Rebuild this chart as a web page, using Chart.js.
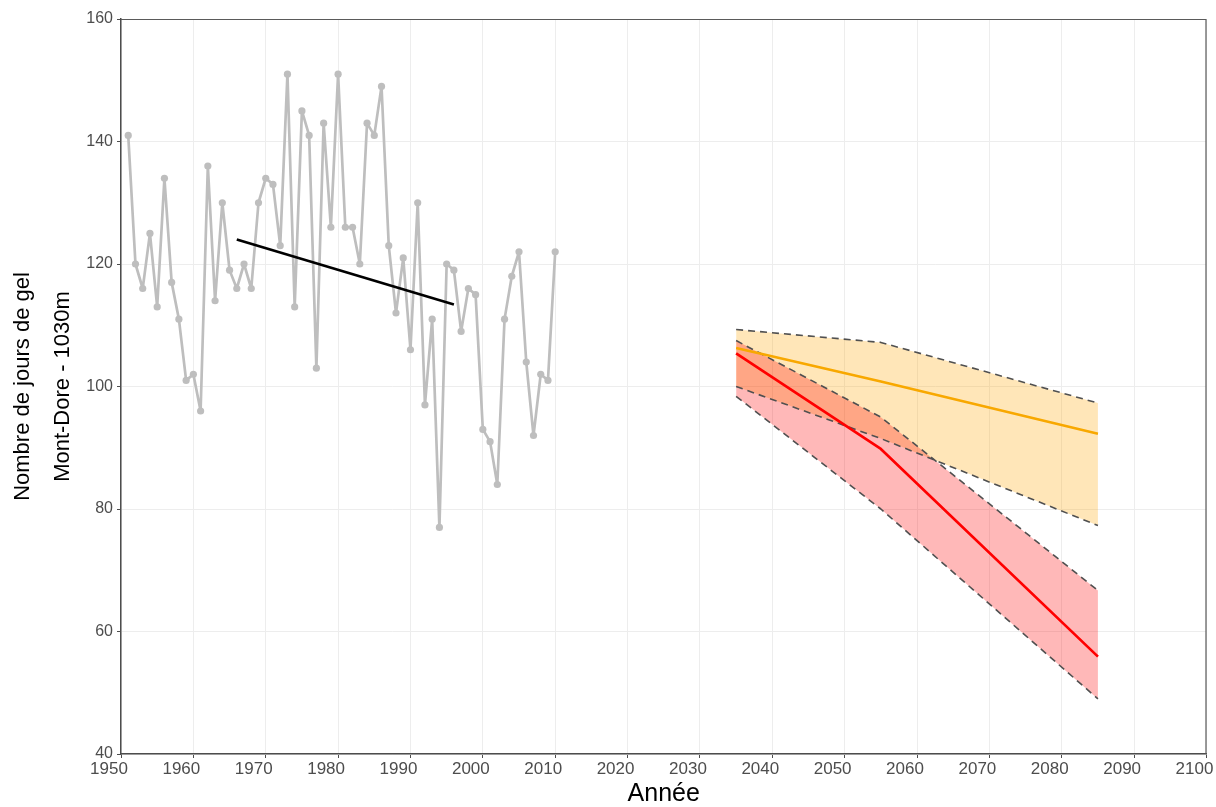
<!DOCTYPE html>
<html>
<head>
<meta charset="utf-8">
<script src="https://cdn.jsdelivr.net/npm/chart.js@4.4.0/dist/chart.umd.min.js"></script>
<style>
html,body{margin:0;padding:0;background:#fff;}
canvas{display:block;}
</style>
</head>
<body>
<canvas id="c" width="1216" height="807"></canvas>
<script>
// Observed frost days
const obsYears = [1951,1952,1953,1954,1955,1956,1957,1958,1959,1960,
                  1961,1962,1963,1964,1965,1966,1967,1968,1969,1970,
                  1971,1972,1973,1974,1975,1976,1977,1978,1979,1980,
                  1981,1982,1983,1984,1985,1986,1987,1988,1989,1990,
                  1991,1992,1993,1994,1995,1996,1997,1998,1999,2000,
                  2001,2002,2003,2004,2005,2006,2007,2008,2009,2010];
const obsValues = [141,120,116,125,113,134,117,111,101,102,
                   96,136,114,130,119,116,120,116,130,134,
                   133,123,151,113,145,141,103,143,126,151,
                   126,126,120,143,141,149,123,112,121,106,
                   130,97,111,77,120,119,109,116,115,93,
                   91,84,111,118,122,104,92,102,101,122];

// Linear trend
const trendYears = [1966, 1996];
const trendValues = [124, 113.4];

// Projections
const projYears = [2035, 2055, 2085];
const orangeUpper  = [109.3, 107.2, 97.3];
const orangeMedian = [106.3, 100.8, 92.3];
const orangeLower  = [100.0, 91.5, 77.3];
const redUpper     = [107.5, 95.0, 66.7];
const redMedian    = [105.4, 89.8, 55.9];
const redLower     = [98.4, 80.0, 49.0];

// Axis ticks
const xTicks = [1950,1960,1970,1980,1990,2000,2010,2020,2030,2040,2050,2060,2070,2080,2090,2100];
const yTicks = [40,60,80,100,120,140,160];

const xTitle = "Année";
const yTitle = ["Nombre de jours de gel", "Mont-Dore - 1030m"];

const pts = (xs, ys) => xs.map((x, i) => ({x: x, y: ys[i]}));

const dashColor = '#505050';
const dash = [7, 5];

const borderPlugin = {
  id: 'panelBorder',
  afterDatasetsDraw(chart) {
    const {ctx, chartArea: a} = chart;
    ctx.save();
    ctx.strokeStyle = '#5a5a5a';
    ctx.lineWidth = 1.2;
    ctx.beginPath();
    ctx.moveTo(a.left, a.top + 0.5);
    ctx.lineTo(a.right - 0.5, a.top + 0.5);
    ctx.lineTo(a.right - 0.5, a.bottom);
    ctx.stroke();
    ctx.restore();
  }
};

Chart.defaults.font.family = "'Liberation Sans', Arial, sans-serif";

const lineBase = { showLine: true, borderJoinStyle: 'round', borderCapStyle: 'round' };

new Chart(document.getElementById('c'), {
  type: 'scatter',
  data: {
    datasets: [
      Object.assign({}, lineBase, { // 0 observed
        data: pts(obsYears, obsValues),
        borderColor: '#BEBEBE',
        backgroundColor: '#BEBEBE',
        borderWidth: 2.7,
        pointRadius: 3.6,
        pointBorderWidth: 0,
        pointBackgroundColor: '#BEBEBE',
        order: 2
      }),
      Object.assign({}, lineBase, { // 1 trend
        data: pts(trendYears, trendValues),
        borderColor: '#000000',
        borderWidth: 2.6,
        borderCapStyle: 'butt',
        pointRadius: 0,
        order: 1
      }),
      Object.assign({}, lineBase, { // 2 red median
        data: pts(projYears, redMedian),
        borderColor: '#FF0000',
        borderWidth: 2.7,
        borderCapStyle: 'butt',
        pointRadius: 0,
        order: 3
      }),
      Object.assign({}, lineBase, { // 3 orange median
        data: pts(projYears, orangeMedian),
        borderColor: '#F8A800',
        borderWidth: 2.6,
        borderCapStyle: 'butt',
        pointRadius: 0,
        order: 4
      }),
      Object.assign({}, lineBase, { // 4 red upper (fill to red lower)
        data: pts(projYears, redUpper),
        borderColor: dashColor,
        borderWidth: 1.6,
        borderDash: dash,
        borderCapStyle: 'butt',
        pointRadius: 0,
        fill: {target: 5},
        backgroundColor: 'rgba(255,0,0,0.28)',
        order: 5
      }),
      Object.assign({}, lineBase, { // 5 red lower
        data: pts(projYears, redLower),
        borderColor: dashColor,
        borderWidth: 1.6,
        borderDash: dash,
        borderCapStyle: 'butt',
        pointRadius: 0,
        fill: false,
        order: 6
      }),
      Object.assign({}, lineBase, { // 6 orange upper (fill to orange lower)
        data: pts(projYears, orangeUpper),
        borderColor: dashColor,
        borderWidth: 1.6,
        borderDash: dash,
        borderCapStyle: 'butt',
        pointRadius: 0,
        fill: {target: 7},
        backgroundColor: 'rgba(255,165,0,0.28)',
        order: 7
      }),
      Object.assign({}, lineBase, { // 7 orange lower
        data: pts(projYears, orangeLower),
        borderColor: dashColor,
        borderWidth: 1.6,
        borderDash: dash,
        borderCapStyle: 'butt',
        pointRadius: 0,
        fill: false,
        order: 8
      })
    ]
  },
  options: {
    responsive: false,
    animation: false,
    devicePixelRatio: 1,
    layout: { padding: { left: 0, right: 9.5, top: 19, bottom: 0 } },
    plugins: {
      legend: { display: false },
      tooltip: { enabled: false },
      filler: { drawTime: 'beforeDatasetsDraw' }
    },
    scales: {
      x: {
        type: 'linear',
        min: 1950,
        max: 2100,
        afterBuildTicks: (s) => { s.ticks = xTicks.map(v => ({value: v})); },
        afterFit: (s) => { s.height = 53; s.paddingLeft = 0; s.paddingRight = 0; },
        ticks: {
          color: '#4D4D4D',
          font: { size: 17 },
          padding: 1,
          labelOffset: -12,
          maxRotation: 0,
          autoSkip: false,
          callback: (v) => String(v)
        },
        grid: {
          color: '#EDEDED',
          lineWidth: 1,
          tickLength: 4,
          tickColor: '#4D4D4D',
          tickWidth: 1
        },
        border: { color: '#4D4D4D', width: 1.5 },
        title: {
          display: true,
          text: xTitle,
          color: '#000000',
          font: { size: 25, lineHeight: 1 },
          padding: { top: 0, bottom: 0 }
        }
      },
      y: {
        type: 'linear',
        min: 40,
        max: 160,
        afterBuildTicks: (s) => { s.ticks = yTicks.map(v => ({value: v})); },
        afterFit: (s) => { s.width = 121; s.paddingTop = 0; s.paddingBottom = 0; },
        ticks: {
          color: '#4D4D4D',
          font: { size: 16 },
          padding: 4,
          autoSkip: false,
          callback: (v) => String(v)
        },
        grid: {
          color: '#EDEDED',
          lineWidth: 1,
          tickLength: 4,
          tickColor: '#4D4D4D',
          tickWidth: 1
        },
        border: { color: '#4D4D4D', width: 1.5 },
        title: {
          display: true,
          text: yTitle,
          color: '#000000',
          font: { size: 22, lineHeight: 1.82 },
          padding: { top: 3, bottom: 0 }
        }
      }
    }
  },
  plugins: [borderPlugin]
});
</script>
</body>
</html>
